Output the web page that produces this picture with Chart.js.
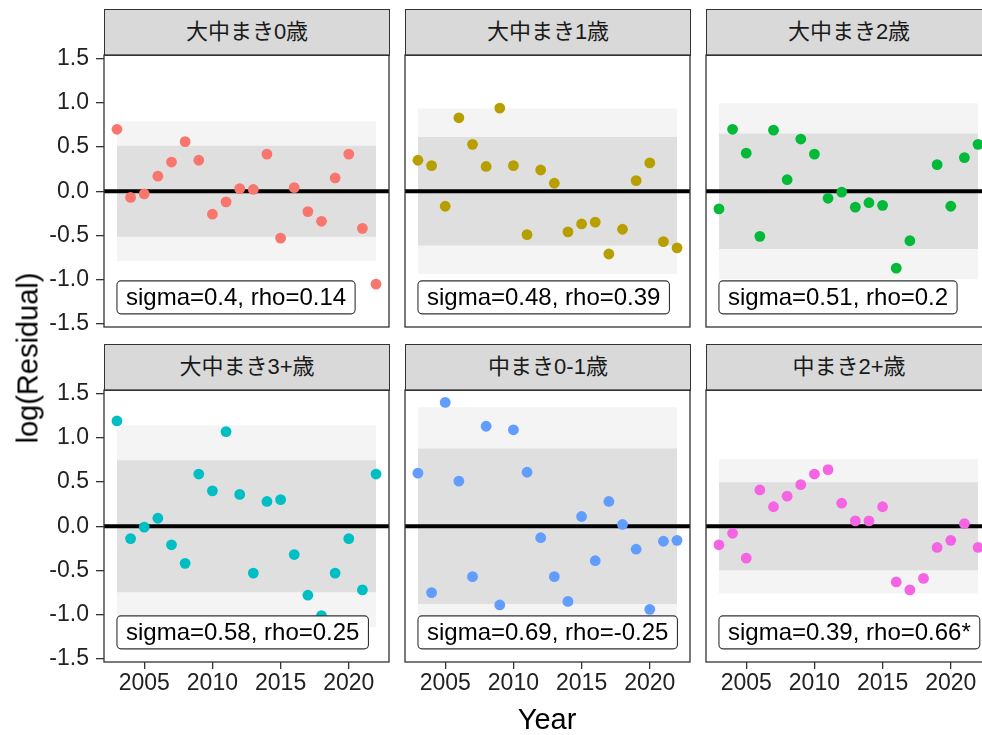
<!DOCTYPE html>
<html>
<head>
<meta charset="utf-8">
<script src="https://cdn.jsdelivr.net/npm/chart.js@4.4.0/dist/chart.umd.min.js"></script>
<style>
  body { margin: 0; width: 982px; height: 735px; overflow: hidden; background: #fff; position: relative;
         font-family: "Liberation Sans", "Noto Sans CJK JP", sans-serif; }
  .strip { position: absolute; box-sizing: border-box; background: #d9d9d9; border: 1.3px solid #333;
           color: #1a1a1a; font-size: 22px; text-align: center; line-height: 44px; }
  canvas { position: absolute; }
  .axtitle { position: absolute; font-size: 29px; color: #000; white-space: nowrap; transform: translate(-50%, -50%); }
</style>
</head>
<body>
<div id="wrap"></div>
<script>
// data
var years = [2003, 2004, 2005, 2006, 2007, 2008, 2009, 2010, 2011, 2012,
             2013, 2014, 2015, 2016, 2017, 2018, 2019, 2020, 2021, 2022];
var panelNames = ['大中まき0歳', '大中まき1歳', '大中まき2歳', '大中まき3+歳', '中まき0-1歳', '中まき2+歳'];

var resid0 = [0.70, -0.07, -0.03, 0.17, 0.33, 0.56, 0.35, -0.26, -0.12, 0.03,
              0.02, 0.42, -0.53, 0.04, -0.23, -0.34, 0.15, 0.42, -0.42, -1.05];
var resid1 = [0.35, 0.29, -0.17, 0.83, 0.53, 0.28, 0.94, 0.29, -0.49, 0.24,
              0.09, -0.46, -0.37, -0.35, -0.71, -0.43, 0.12, 0.32, -0.57, -0.64];
var resid2 = [-0.20, 0.70, 0.43, -0.51, 0.69, 0.13, 0.59, 0.42, -0.08, -0.01,
              -0.18, -0.13, -0.16, -0.87, -0.56, null, 0.30, -0.17, 0.38, 0.53];
var resid3 = [1.19, -0.14, -0.01, 0.09, -0.21, -0.42, 0.59, 0.40, 1.07, 0.36,
              -0.53, 0.28, 0.30, -0.32, -0.78, -1.01, -0.53, -0.14, -0.72, 0.59];
var resid4 = [0.60, -0.75, 1.40, 0.51, -0.57, 1.13, -0.89, 1.09, 0.61, -0.13,
              -0.57, -0.85, 0.11, -0.39, 0.28, 0.02, -0.26, -0.94, -0.17, -0.16];
var resid5 = [-0.21, -0.08, -0.36, 0.41, 0.22, 0.34, 0.47, 0.59, 0.64, 0.26,
              0.06, 0.06, 0.22, -0.63, -0.72, -0.59, -0.24, -0.16, 0.03, -0.24];
var residuals = [resid0, resid1, resid2, resid3, resid4, resid5];

var sigmaLabels = ['sigma=0.4, rho=0.14', 'sigma=0.48, rho=0.39', 'sigma=0.51, rho=0.2',
                   'sigma=0.58, rho=0.25', 'sigma=0.69, rho=-0.25', 'sigma=0.39, rho=0.66*'];
var bandInner = [0.515, 0.613, 0.652, 0.746, 0.88, 0.498];
var bandOuter = [0.79, 0.935, 0.995, 1.14, 1.346, 0.761];

var yTicks = [-1.5, -1.0, -0.5, 0.0, 0.5, 1.0, 1.5];
var xTicks = [2005, 2010, 2015, 2020];
var colors = ['#F8766D', '#B79F00', '#00BA38', '#00BFC4', '#619CFF', '#F564E3'];

// layout
var colLeft = [104, 405, 706];
var rowTop = [55, 390];
var panelW = 285, panelH = 272;
var xMin = 2002.05, xMax = 2022.95;
var yMin = -1.535, yMax = 1.54;
var tickFont = { family: '"Liberation Sans", sans-serif', size: 23 };

var frame = {
    id: 'frame',
    afterDraw: function (chart) {
        var a = chart.chartArea, ctx = chart.ctx;
        ctx.save();
        ctx.strokeStyle = '#333';
        ctx.lineWidth = 1.3;
        ctx.strokeRect(a.left, a.top, a.width, a.height);
        ctx.restore();
    }
};

var sigmaBox = {
    id: 'sigmaBox',
    afterDatasetsDraw: function (chart, args, opts) {
        var ctx = chart.ctx;
        var x0 = chart.scales.x.getPixelForValue(2003);
        var yc = chart.scales.y.getPixelForValue(-1.2);
        ctx.save();
        ctx.font = '24px "Liberation Sans", sans-serif';
        var w = ctx.measureText(opts.text).width + 18;
        var h = 33, r = 4;
        var y0 = yc - h / 2;
        ctx.beginPath();
        ctx.roundRect(x0, y0, w, h, r);
        ctx.fillStyle = '#fff';
        ctx.fill();
        ctx.strokeStyle = '#333';
        ctx.lineWidth = 1.1;
        ctx.stroke();
        ctx.fillStyle = '#000';
        ctx.textBaseline = 'middle';
        ctx.fillText(opts.text, x0 + 9, yc + 1);
        ctx.restore();
    }
};

var wrap = document.getElementById('wrap');

function makePanel(p) {
    var c = p % 3, r = Math.floor(p / 3);
    var L = colLeft[c], T = rowTop[r];

    var strip = document.createElement('div');
    strip.className = 'strip';
    strip.style.left = L + 'px';
    strip.style.top = (T - 46) + 'px';
    strip.style.width = (panelW + 1) + 'px';
    strip.style.height = '47px';
    strip.textContent = panelNames[p];
    wrap.appendChild(strip);

    var axL = c == 0 ? 100 : 0;
    var axB = r == 1 ? 46 : 0;
    var pad = { left: 2, right: 2, top: 16, bottom: 16 };
    var cv = document.createElement('canvas');
    cv.width = panelW + axL + pad.left + pad.right;
    cv.height = panelH + axB + pad.top + pad.bottom;
    cv.style.left = (L - axL - pad.left) + 'px';
    cv.style.top = (T - pad.top) + 'px';
    cv.style.width = cv.width + 'px';
    cv.style.height = cv.height + 'px';
    wrap.appendChild(cv);

    var pts = [];
    for (var i = 0; i < years.length; i++) {
        if (residuals[p][i] !== null) pts.push({ x: years[i], y: residuals[p][i] });
    }

    new Chart(cv.getContext('2d'), {
        type: 'scatter',
        data: {
            datasets: [
                { data: pts, backgroundColor: colors[p], borderWidth: 0, pointRadius: 5.4, order: 0 },
                { type: 'line', data: [{ x: xMin, y: 0 }, { x: xMax, y: 0 }],
                  borderColor: '#000', borderWidth: 4, pointRadius: 0, order: 1 },
                { type: 'line', data: [{ x: 2003, y: bandInner[p] }, { x: 2022, y: bandInner[p] }],
                  borderWidth: 0, borderColor: 'rgba(0,0,0,0)', pointRadius: 0, fill: '+1',
                  backgroundColor: '#dfdfdf', order: 2 },
                { type: 'line', data: [{ x: 2003, y: -bandInner[p] }, { x: 2022, y: -bandInner[p] }],
                  borderWidth: 0, borderColor: 'rgba(0,0,0,0)', pointRadius: 0, order: 2 },
                { type: 'line', data: [{ x: 2003, y: bandOuter[p] }, { x: 2022, y: bandOuter[p] }],
                  borderWidth: 0, borderColor: 'rgba(0,0,0,0)', pointRadius: 0, fill: '+1',
                  backgroundColor: '#f4f4f4', order: 3 },
                { type: 'line', data: [{ x: 2003, y: -bandOuter[p] }, { x: 2022, y: -bandOuter[p] }],
                  borderWidth: 0, borderColor: 'rgba(0,0,0,0)', pointRadius: 0, order: 3 }
            ]
        },
        options: {
            responsive: false,
            animation: false,
            layout: { padding: pad, autoPadding: false },
            plugins: {
                legend: { display: false },
                tooltip: { enabled: false },
                sigmaBox: { text: sigmaLabels[p] }
            },
            scales: {
                x: {
                    type: 'linear', min: xMin, max: xMax,
                    display: axB > 0,
                    afterBuildTicks: function (s) { s.ticks = xTicks.map(function (v) { return { value: v }; }); },
                    afterFit: function (s) {
                        s.height = axB;
                        s.paddingLeft = 0; s.paddingRight = 0;
                    },
                    grid: { drawOnChartArea: false, drawTicks: true, tickLength: 7, color: '#333', lineWidth: 1.3 },
                    border: { display: false },
                    ticks: { font: tickFont, color: '#222', padding: 1, maxRotation: 0, autoSkip: false,
                             callback: function (v) { return String(v); } }
                },
                y: {
                    type: 'linear', min: yMin, max: yMax,
                    display: axL > 0,
                    afterBuildTicks: function (s) { s.ticks = yTicks.map(function (v) { return { value: v }; }); },
                    afterFit: function (s) {
                        s.width = axL;
                        s.paddingTop = 0; s.paddingBottom = 0;
                    },
                    grid: { drawOnChartArea: false, drawTicks: true, tickLength: 8, color: '#333', lineWidth: 1.3 },
                    border: { display: false },
                    ticks: { font: tickFont, color: '#222', padding: 7, autoSkip: false,
                             callback: function (v) { return v.toFixed(1); } }
                }
            }
        },
        plugins: [frame, sigmaBox]
    });
}

for (var p = 0; p < 6; p++) makePanel(p);

var yt = document.createElement('div');
yt.className = 'axtitle';
yt.style.left = '28px';
yt.style.top = '358px';
yt.style.transform = 'translate(-50%, -50%) rotate(-90deg)';
yt.textContent = 'log(Residual)';
wrap.appendChild(yt);

var xt = document.createElement('div');
xt.className = 'axtitle';
xt.style.left = '547px';
xt.style.top = '719px';
xt.textContent = 'Year';
wrap.appendChild(xt);
</script>
</body>
</html>
